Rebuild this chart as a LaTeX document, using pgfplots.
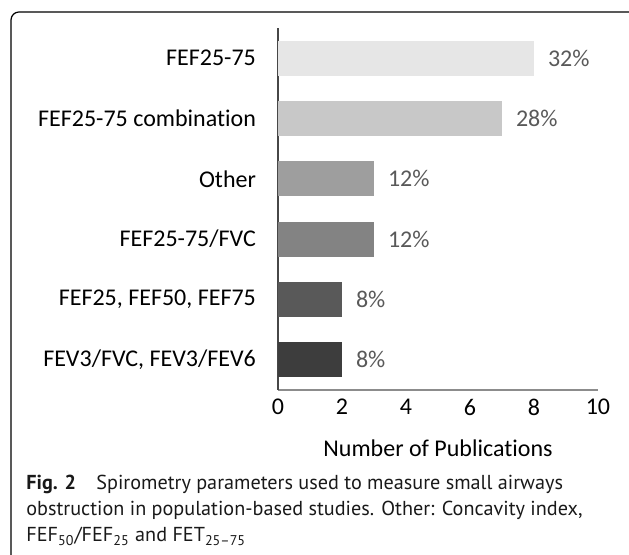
\documentclass[border=0pt]{standalone}
\usepackage{pgfplots}
\pgfplotsset{compat=1.18}
\usepackage{fontspec}
\setmainfont{Carlito}[Ligatures={NoCommon}]
\newfontfamily\capfont{PT Sans}
\definecolor{b1}{HTML}{E6E6E6}
\definecolor{b2}{HTML}{C8C8C8}
\definecolor{b3}{HTML}{9E9E9E}
\definecolor{b4}{HTML}{838383}
\definecolor{b5}{HTML}{595959}
\definecolor{b6}{HTML}{3D3D3D}
\definecolor{vlab}{HTML}{595959}
\begin{document}
\begin{tikzpicture}
\useasboundingbox (0,0) rectangle (314.5pt,277.5pt);
\draw[line width=0.6pt, rounded corners=4pt] (5.5pt,0pt) -- (5.5pt,271.5pt) -- (314.5pt,271.5pt);
\begin{axis}[
  at={(139pt,82.5pt)}, anchor=south west,
  scale only axis, width=160pt, height=181pt,
  xmin=0, xmax=10, ymin=-0.5, ymax=5.5,
  xbar, bar width=17.5pt, /pgf/bar shift=0pt,
  axis x line=bottom, axis y line=left,
  x axis line style={-, draw=black!45, line width=0.6pt},
  y axis line style={-, draw=black!72, line width=0.6pt},
  major tick length=0pt,
  xtick={0,2,4,6,8,10},
  ytick={0,1,2,3,4,5},
  yticklabels={{FEV3/FVC, FEV3/FEV6}, {FEF25, FEF50, FEF75}, FEF25-75/FVC, Other, FEF25-75 combination, FEF25-75},
  font=\fontsize{12pt}{14pt}\selectfont,
  /pgf/number format/assume math mode=true,
  xticklabel style={font=\fontsize{12pt}{14pt}\selectfont, yshift=-1pt},
  yticklabel style={font=\fontsize{12pt}{14pt}\selectfont, xshift=-7.5pt},
  xlabel={Number of Publications},
  xlabel style={at={(axis description cs:0.5,0)}, anchor=north, yshift=-24.5pt, inner sep=0pt, font=\fontsize{12pt}{14pt}\selectfont},
  point meta=explicit symbolic,
  nodes near coords,
  nodes near coords style={anchor=west, xshift=3.5pt, text=vlab, font=\fontsize{12pt}{14pt}\selectfont},
  clip=false,
]
\addplot[fill=b1, draw=none] coordinates {(8,5) [32\%]};
\addplot[fill=b2, draw=none] coordinates {(7,4) [28\%]};
\addplot[fill=b3, draw=none] coordinates {(3,3) [12\%]};
\addplot[fill=b4, draw=none] coordinates {(3,2) [12\%]};
\addplot[fill=b5, draw=none] coordinates {(2,1) [8\%]};
\addplot[fill=b6, draw=none] coordinates {(2,0) [8\%]};
\end{axis}
\begin{scope}[every node/.style={anchor=base west, inner sep=0pt, font=\capfont\fontsize{10.1pt}{12pt}\selectfont, text=black!90}]
\node at (13pt,32.5pt) {\textbf{Fig. 2}\hspace{1em}Spirometry parameters used to measure small airways};
\node at (13pt,19.5pt) {obstruction in population-based studies. Other: Concavity index,};
\node at (13pt,6.5pt) {FEF\textsubscript{50}/FEF\textsubscript{25} and FET\textsubscript{25–75}};
\end{scope}
\end{tikzpicture}
\end{document}
